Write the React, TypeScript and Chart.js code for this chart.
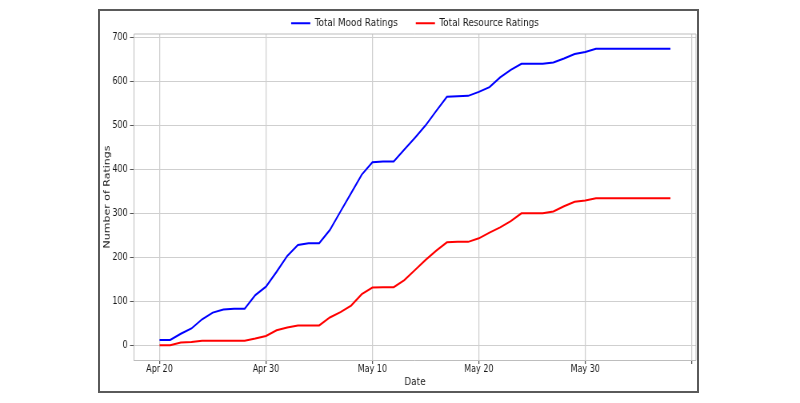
import React, { useEffect, useRef } from 'react';
import { Chart, registerables } from 'chart.js';

Chart.register(...registerables);

// ---- data ----
const dates = [
  '2020-04-20', '2020-04-21', '2020-04-22', '2020-04-23', '2020-04-24', '2020-04-25', '2020-04-26',
  '2020-04-27', '2020-04-28', '2020-04-29', '2020-04-30', '2020-05-01', '2020-05-02', '2020-05-03',
  '2020-05-04', '2020-05-05', '2020-05-06', '2020-05-07', '2020-05-08', '2020-05-09', '2020-05-10',
  '2020-05-11', '2020-05-12', '2020-05-13', '2020-05-14', '2020-05-15', '2020-05-16', '2020-05-17',
  '2020-05-18', '2020-05-19', '2020-05-20', '2020-05-21', '2020-05-22', '2020-05-23', '2020-05-24',
  '2020-05-25', '2020-05-26', '2020-05-27', '2020-05-28', '2020-05-29', '2020-05-30', '2020-05-31',
  '2020-06-01', '2020-06-02', '2020-06-03', '2020-06-04', '2020-06-05', '2020-06-06', '2020-06-07',
];

const moodRatings = [
  12, 12, 26, 38, 59, 74, 81, 83, 83, 114, 133, 167, 203, 228, 232, 232, 262,
  304, 346, 388, 416, 418, 418, 445, 472, 500, 533, 565, 566, 567, 576, 587,
  609, 626, 640, 640, 640, 643, 652, 662, 667, 674, 674, 674, 674, 674, 674, 674, 674,
];

const resourceRatings = [
  0, 0, 6, 7, 10, 10, 10, 10, 10, 15, 21, 34, 40, 45, 45, 45, 63,
  75, 90, 116, 131, 132, 132, 148, 171, 194, 215, 234, 235, 235, 243, 256,
  268, 282, 300, 300, 300, 304, 316, 326, 329, 334, 334, 334, 334, 334, 334, 334, 334,
];

const seriesNames = ['Total Mood Ratings', 'Total Resource Ratings'];
const xTickDays = [0, 10, 20, 30, 40, 50];
const xTickLabels = ['Apr 20', 'Apr 30', 'May 10', 'May 20', 'May 30', ''];
const yTickValues = [0, 100, 200, 300, 400, 500, 600, 700];

const DAY = 86400000;
const t0 = Date.parse(dates[0]);
const dayOf = (d: string) => Math.round((Date.parse(d) - t0) / DAY);

const FONT = "'DejaVu Sans', sans-serif";
const TEXT = '#1a1a1a';
const GRID = '#cfcfcf';
const SPINE = '#bdbdbd';

const framePlugin = {
  id: 'frame',
  beforeDatasetsDraw(chart: any) {
    const { ctx, chartArea } = chart;
    const { left, top, right, bottom } = chartArea;
    ctx.save();
    ctx.strokeStyle = SPINE;
    ctx.lineWidth = 1;
    ctx.beginPath();
    ctx.moveTo(left, top);
    ctx.lineTo(right, top);
    ctx.lineTo(right, bottom);
    ctx.stroke();
    ctx.restore();
  },
};

export default function App() {
  const ref = useRef<HTMLCanvasElement | null>(null);

  useEffect(() => {
    const canvas = ref.current;
    if (!canvas) return;
    const chart = new Chart(canvas, {
      type: 'line',
      data: {
        datasets: [
          {
            label: seriesNames[0],
            data: dates.map((d, i) => ({ x: dayOf(d), y: moodRatings[i] })),
            borderColor: '#0000ff',
            backgroundColor: '#0000ff',
            borderWidth: 2,
            pointRadius: 0,
            tension: 0,
          },
          {
            label: seriesNames[1],
            data: dates.map((d, i) => ({ x: dayOf(d), y: resourceRatings[i] })),
            borderColor: '#ff0000',
            backgroundColor: '#ff0000',
            borderWidth: 2,
            pointRadius: 0,
            tension: 0,
          },
        ],
      },
      options: {
        animation: false,
        responsive: false,
        devicePixelRatio: 1,
        layout: { padding: { left: 122.5, right: 130, top: -4.7, bottom: 10 } },
        plugins: {
          legend: {
            position: 'top',
            fullSize: false,
            maxHeight: 38.7,
            labels: {
              usePointStyle: true,
              pointStyle: 'line',
              pointStyleWidth: 24,
              padding: 22.5,
              color: TEXT,
              font: { family: FONT, size: 11 },
            },
          },
          tooltip: { enabled: false },
        },
        scales: {
          x: {
            type: 'linear',
            min: -2.4,
            max: 50.4,
            afterBuildTicks: (s: any) => {
              s.ticks = xTickDays.map((v) => ({ value: v }));
            },
            afterFit: (s: any) => {
              s.height = 33;
            },
            ticks: {
              callback: (_v: any, i: number) => xTickLabels[i],
              autoSkip: false,
              maxRotation: 0,
              padding: 0,
              color: TEXT,
              font: { family: FONT, size: 10, lineHeight: 1 },
            },
            grid: { color: GRID, lineWidth: 1.25, tickLength: 4, tickColor: '#555' },
            border: { color: SPINE, width: 1 },
            title: {
              display: true,
              text: 'Date',
              color: TEXT,
              font: { family: FONT, size: 11 },
              padding: { top: 0, bottom: 4 },
            },
          },
          y: {
            min: -33.7,
            max: 707.7,
            afterBuildTicks: (s: any) => {
              s.ticks = yTickValues.map((v) => ({ value: v }));
            },
            afterFit: (s: any) => {
              s.width = 45;
            },
            ticks: {
              callback: (v: any) => String(v),
              padding: 3,
              color: TEXT,
              font: { family: FONT, size: 10 },
            },
            grid: { color: GRID, lineWidth: 1, tickLength: 5, tickColor: '#555' },
            border: { color: SPINE, width: 1 },
            title: {
              display: true,
              text: 'Number of Ratings',
              color: TEXT,
              font: { family: FONT, size: 11 },
              padding: { top: 5, bottom: 0 },
            },
          },
        },
      },
      plugins: [framePlugin],
    } as any);
    return () => chart.destroy();
  }, []);

  return (
    <div
      style={{
        position: 'fixed',
        left: 0,
        top: 0,
        width: 800,
        height: 403,
        background: '#ffffff',
        overflow: 'hidden',
      }}
    >
      <canvas
        ref={ref}
        width={1000}
        height={403}
        style={{ position: 'absolute', left: 0, top: 0, width: '800px', height: '403px' }}
      />
      <div
        style={{
          position: 'absolute',
          left: 98,
          top: 9,
          width: 601,
          height: 384,
          boxSizing: 'border-box',
          border: '2px solid #5a5a5a',
          pointerEvents: 'none',
        }}
      />
    </div>
  );
}
